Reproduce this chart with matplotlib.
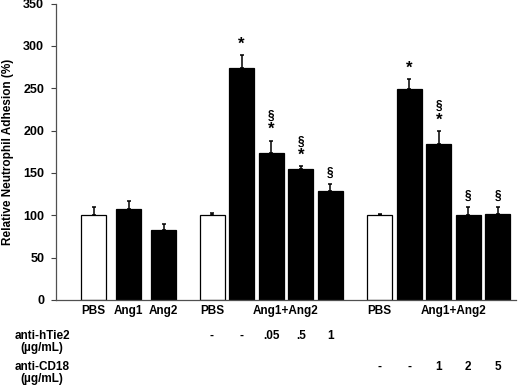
import matplotlib
matplotlib.use("Agg")
import matplotlib.pyplot as plt
from matplotlib import transforms

plt.rcParams["font.family"] = "Liberation Sans"
plt.rcParams["font.weight"] = "bold"

# ── Data ──────────────────────────────────────────────────────────────────────
values = [100, 107, 83, 100, 274, 174, 155, 129, 100, 249, 184, 100, 102]
errors = [10, 10, 7, 3, 15, 14, 3, 7.5, 1, 12, 15.5, 9.5, 7.5]
is_pbs = [True, False, False, True, False, False, False, False,
          True, False, False, False, False]
marks = ["", "", "", "", "*", "§*", "§*", "§", "", "*", "§*", "§", "§"]

cat_labels = ["PBS", "Ang1", "Ang2", "PBS", "Ang1+Ang2", "PBS", "Ang1+Ang2"]
cat_bars = [[0], [1], [2], [3], [4, 5, 6, 7], [8], [9, 10, 11, 12]]
tie2_labels = ["-", "-", ".05", ".5", "1"]
tie2_bars = [3, 4, 5, 6, 7]
cd18_labels = ["-", "-", "1", "2", "5"]
cd18_bars = [8, 9, 10, 11, 12]

# ── Layout (pixel-like x units) ───────────────────────────────────────────────
groups = [(93.7, 34.9, 3), (212, 29.6, 5), (379.5, 29.6, 5)]
xpos = [start + i * pitch for start, pitch, n in groups for i in range(n)]
W, H = 520, 387
AX_L, AX_R, AX_B, AX_T = 56, 516, 300, 3.5
FS = 8.5

fig = plt.figure(figsize=(W / 100, H / 100), dpi=100)
ax = fig.add_axes([AX_L / W, 1 - AX_B / H, (AX_R - AX_L) / W, (AX_B - AX_T) / H])

colors = ["white" if p else "black" for p in is_pbs]
ax.bar(xpos, values, width=25, color=colors, edgecolor="black", linewidth=0.9, zorder=2)
ax.errorbar(xpos, values, yerr=[[0] * len(errors), errors], fmt="none",
            ecolor="black", elinewidth=1.1, capsize=1.5, capthick=1.1, zorder=3)

# significance marks
for x, v, e, m in zip(xpos, values, errors, marks):
    top = v + e
    if m in ("*", "§*"):
        ax.annotate("*", (x, top), xytext=(0, 2.5), textcoords="offset points",
                    ha="center", va="bottom", fontsize=12)
    if m == "§":
        ax.annotate("§", (x, top), xytext=(0, 4), textcoords="offset points",
                    ha="center", va="bottom", fontsize=8.5)
    elif m == "§*":
        ax.annotate("§", (x, top), xytext=(0, 13.5), textcoords="offset points",
                    ha="center", va="bottom", fontsize=8.5)

ax.set_xlim(AX_L, AX_R)
ax.set_ylim(0, 350)
ax.set_yticks(range(0, 351, 50))
ax.tick_params(axis="y", labelsize=9, length=3.5, width=0.8, pad=5, color="#404040")
ax.tick_params(axis="x", bottom=False, labelbottom=False)
for s in ["top", "right"]:
    ax.spines[s].set_visible(False)
for s in ["left", "bottom"]:
    ax.spines[s].set_color("#505050")
    ax.spines[s].set_linewidth(0.9)
ax.set_ylabel("Relative Neutrophil Adhesion (%)", fontsize=FS, fontweight="bold")
ax.yaxis.set_label_coords((14 - AX_L) / (AX_R - AX_L), 0.5)

tr = transforms.blended_transform_factory(ax.transData, fig.transFigure)


def fy(py):
    return 1 - py / H


for lab, idx in zip(cat_labels, cat_bars):
    cx = sum(xpos[i] for i in idx) / len(idx)
    ax.text(cx, fy(310.7), lab, transform=tr, ha="center", va="center",
            fontsize=FS, clip_on=False)
for lab, i in zip(tie2_labels, tie2_bars):
    ax.text(xpos[i], fy(335.7), lab, transform=tr, ha="center", va="center",
            fontsize=FS, clip_on=False)
for lab, i in zip(cd18_labels, cd18_bars):
    ax.text(xpos[i], fy(366.7), lab, transform=tr, ha="center", va="center",
            fontsize=FS, clip_on=False)

fig.text(42 / W, fy(335.7), "anti-hTie2", ha="center", va="center", fontsize=FS)
fig.text(42 / W, fy(348), "(µg/mL)", ha="center", va="center", fontsize=FS)
fig.text(42 / W, fy(366.7), "anti-CD18", ha="center", va="center", fontsize=FS)
fig.text(42 / W, fy(379.3), "(µg/mL)", ha="center", va="center", fontsize=FS)

fig.savefig("out.png", dpi=100, facecolor="white")
